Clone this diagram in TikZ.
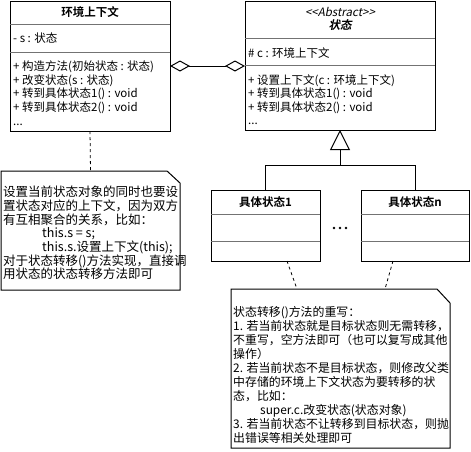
\documentclass[tikz,border=0pt]{standalone}
\usepackage{fontspec}
\setmainfont{Noto Sans CJK SC}[BoldFont={Noto Sans CJK SC Bold}, ItalicFont={Noto Sans CJK SC}, ItalicFeatures={FakeSlant=0.2}, BoldItalicFont={Noto Sans CJK SC Bold}, BoldItalicFeatures={FakeSlant=0.2}]
\usetikzlibrary{arrows.meta}
\begin{document}
\begin{tikzpicture}[x=1pt,y=-1pt,
  box/.style={draw, line width=1pt, anchor=north west, inner sep=0pt, outer sep=0pt},
  sep/.style={line width=0.6pt, draw=black!55},
  ct/.style={anchor=base west, inner sep=0pt, font=\fontsize{11.5}{13}\selectfont},
  ctitle/.style={anchor=base, inner sep=0pt, font=\bfseries\fontsize{11.5}{13}\selectfont},
  nt/.style={anchor=base west, inner sep=0pt, font=\fontsize{12.5}{14}\selectfont},
  ntb/.style={anchor=base west, inner sep=0pt, font=\fontsize{11.9}{14}\selectfont},
  notebox/.style={anchor=north west, inner sep=0pt, outer sep=0pt},
  link/.style={line width=1pt},
  dlink/.style={line width=0.8pt, dash pattern=on 3pt off 3pt}
]
\useasboundingbox (0,0) rectangle (471,451);
\fill[white] (0,0) rectangle (471,451);

% ---------- class: 环境上下文 ----------
\node[box, minimum width=160pt, minimum height=130pt] (lc) at (10,1) {};
\draw[sep] (10,24) -- (170,24);
\draw[sep] (10,52) -- (170,52);
\node[ctitle] (lct) at (90,16.3) {环境上下文};
\node[ct] (lca) at (13,42.3) {- s : 状态};
\node[ct] (lm1) at (13,70) {+ 构造方法(初始状态 : 状态)};
\node[ct] (lm2) at (13,84) {+ 改变状态(s : 状态)};
\node[ct] (lm3) at (13,97.3) {+ 转到具体状态1() : void};
\node[ct] (lm4) at (13,111) {+ 转到具体状态2() : void};
\node[ct] (lm5) at (13,125) {...};

% ---------- class: 状态 ----------
\node[box, minimum width=190pt, minimum height=129pt] (rc) at (245,1) {};
\draw[sep] (245,38.3) -- (435,38.3);
\draw[sep] (245,65.7) -- (435,65.7);
\node[anchor=base, inner sep=0pt, font=\itshape\fontsize{11.5}{13}\selectfont] (rcs) at (340,16) {{<}{<}Abstract{>}{>}};
\node[anchor=base, inner sep=0pt, font=\bfseries\itshape\fontsize{11.5}{13}\selectfont] (rct) at (340,29.5) {状态};
\node[ct] (rca) at (248,57) {\# c : 环境上下文};
\node[ct] (rm1) at (248,84.3) {+ 设置上下文(c : 环境上下文)};
\node[ct] (rm2) at (248,97.6) {+ 转到具体状态1() : void};
\node[ct] (rm3) at (248,111) {+ 转到具体状态2() : void};
\node[ct] (rm4) at (248,124.5) {...};

% ---------- aggregation ----------
\coordinate (aggL) at (170,66);
\coordinate (aggR) at (245,66);
\draw[link, {Diamond[open, length=20pt, width=11pt]}-{Diamond[open, length=20pt, width=11pt]}] (aggL) -- (aggR);

% ---------- concrete states ----------
\node[box, minimum width=109pt, minimum height=71pt] (b1) at (211,190) {};
\draw[sep] (211,214) -- (320,214);
\draw[sep] (211,241) -- (320,241);
\node[ctitle] (b1t) at (265.5,206) {具体状态1};

\node[box, minimum width=108pt, minimum height=71pt] (bn) at (361,190) {};
\draw[sep] (361,214) -- (469,214);
\draw[sep] (361,241) -- (469,241);
\node[ctitle] (bnt) at (415,206) {具体状态n};

\node[inner sep=0pt] (dots) at (340,228) {\tikz{\foreach \i in {-6,0,6} \fill (\i pt,0) circle (1.3pt);}};

% ---------- inheritance ----------
\coordinate (jn) at (340,165);
\draw[link] (b1.north) |- (jn);
\draw[link] (bn.north) |- (jn);
\draw[link, -{Triangle[open, length=20pt, width=20pt]}] (jn) -- (rc.south);

% ---------- note 1 ----------
\node[notebox, minimum width=179pt, minimum height=119pt] (n1) at (1,171) {};
\draw[link] (n1.north west) -- ([xshift=-13pt]n1.north east) -- ([yshift=-12pt]n1.north east) -- (n1.south east) -- (n1.south west) -- cycle;
\draw[dlink] (lc.south) -- (n1.north);
\node[nt] (n1l1) at (3,196.6) {设置当前状态对象的同时也要设};
\node[nt] (n1l2) at (3,210.3) {置状态对应的上下文，因为双方};
\node[nt] (n1l3) at (3,224) {有互相聚合的关系，比如：};
\node[nt] (n1l4) at (42,237.6) {this.s = s;};
\node[nt] (n1l5) at (42,251.3) {this.s.设置上下文(this);};
\node[nt] (n1l6) at (3,265) {对于状态转移()方法实现，直接调};
\node[nt] (n1l7) at (3,278.7) {用状态的状态转移方法即可};

% ---------- note 2 ----------
\node[notebox, minimum width=219pt, minimum height=159pt] (n2) at (231,289) {};
\draw[link] (n2.north west) -- ([xshift=-13pt]n2.north east) -- ([yshift=-14pt]n2.north east) -- (n2.south east) -- (n2.south west) -- cycle;
\coordinate (d1a) at (287,261);
\coordinate (d1b) at (297,289);
\coordinate (d2a) at (393,261);
\coordinate (d2b) at (385,289);
\draw[dlink] (d1a) -- (d1b);
\draw[dlink] (d2a) -- (d2b);
\node[ntb] (n2l1) at (233,316.5) {状态转移()方法的重写：};
\node[ntb] (n2l2) at (233,330.5) {1. 若当前状态就是目标状态则无需转移，};
\node[ntb] (n2l3) at (233,344.5) {不重写，空方法即可（也可以复写成其他};
\node[ntb] (n2l4) at (233,358.5) {操作）};
\node[ntb] (n2l5) at (233,372.5) {2. 若当前状态不是目标状态，则修改父类};
\node[ntb] (n2l6) at (233,386.5) {中存储的环境上下文状态为要转移的状};
\node[ntb] (n2l7) at (233,400.5) {态，比如：};
\node[ntb] (n2l8) at (260,414.5) {super.c.改变状态(状态对象)};
\node[ntb] (n2l9) at (233,428.5) {3. 若当前状态不让转移到目标状态，则抛};
\node[ntb] (n2l10) at (233,442.5) {出错误等相关处理即可};
\end{tikzpicture}
\end{document}
